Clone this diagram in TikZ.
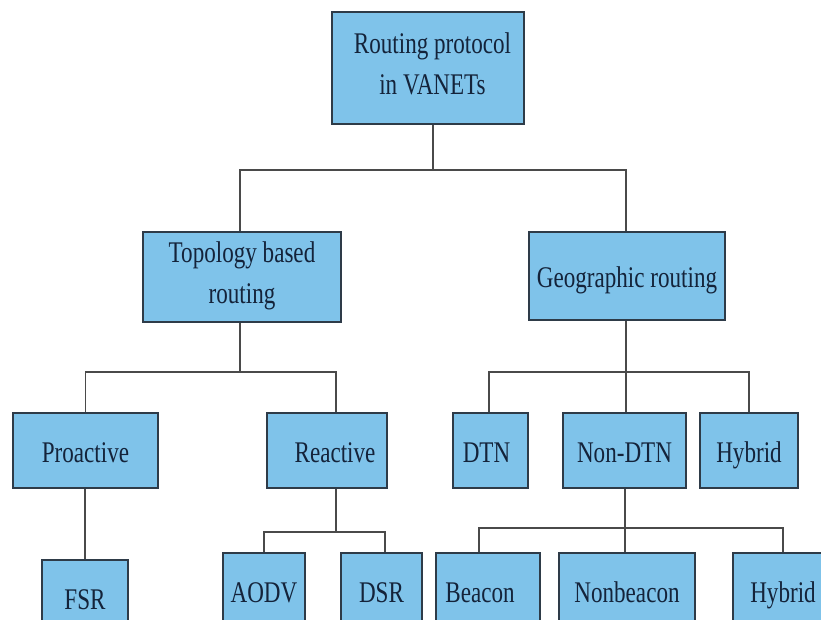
\documentclass[tikz,border=0pt]{standalone}
\usepackage{fontspec}
\setmainfont[FakeStretch=0.77]{Liberation Serif}
\usetikzlibrary{calc}
\definecolor{boxfill}{HTML}{7FC3EA}
\definecolor{boxline}{HTML}{2E3B48}
\definecolor{conline}{HTML}{4A4A4A}
\definecolor{txt}{HTML}{14233A}
\begin{document}
\begin{tikzpicture}[x=1pt,y=-1pt,
  box/.style={draw=boxline, fill=boxfill, line width=1.8pt, text=txt, inner sep=0pt,
              font=\fontsize{30}{41}\selectfont},
  multi/.style={box, align=center},
  one/.style={box, text height=23pt, text depth=0pt},
  conn/.style={draw=conline, line width=1.8pt}]
\useasboundingbox (0,0) rectangle (821,620);
\clip (0,0) rectangle (821,620);
\fill[white] (0,0) rectangle (821,620);

% level 0
\node[multi, minimum width=192pt, minimum height=112pt] (root) at (428,68)
  {\hspace*{9pt}Routing protocol\\\hspace*{9pt}in VANETs\rule[-8pt]{0pt}{0pt}};
% level 1
\node[multi, minimum width=198pt, minimum height=90pt] (topo) at (242,277)
  {Topology based\\routing\rule[-8pt]{0pt}{0pt}};
\node[one, minimum width=196pt, minimum height=88pt] (geo) at (627,276) {Geographic routing};
% level 2
\node[one, minimum width=145pt, minimum height=75pt] (pro) at (85.5,450.5) {Proactive};
\node[one, minimum width=120pt, minimum height=75pt] (rea) at (327,450.5) {\hspace*{16pt}Reactive};
\node[one, minimum width=75pt, minimum height=75pt] (dtn) at (490.5,450.5) {DTN\hspace*{8pt}};
\node[one, minimum width=123pt, minimum height=75pt] (ndtn) at (624.5,450.5) {Non-DTN};
\node[one, minimum width=98pt, minimum height=75pt] (hyb) at (749,450.5) {Hybrid};
% level 3
\node[one, minimum width=86pt, minimum height=75pt] (fsr) at (85,597.5) {FSR};
\node[one, minimum width=82pt, minimum height=75pt] (aodv) at (264,590.5) {AODV};
\node[one, minimum width=81pt, minimum height=75pt] (dsr) at (381.5,590.5) {DSR};
\node[one, minimum width=104pt, minimum height=75pt] (bea) at (488,590.5) {Beacon\hspace*{16pt}};
\node[one, minimum width=136pt, minimum height=75pt] (nbea) at (627,590.5) {Nonbeacon};
\node[one, minimum width=100pt, minimum height=75pt] (hybb) at (783,590.5) {Hybrid};

% connectors
\coordinate (j0) at (433,170);
\draw[conn] (j0 |- root.south) -- (j0);
\draw[conn] ([xshift=-2pt]topo.north) |- (j0) -| ([xshift=-1pt]geo.north);

\coordinate (j1) at (240,372);
\draw[conn] (j1 |- topo.south) -- (j1);
\draw[conn] (pro.north) |- (j1) -| ([xshift=9pt]rea.north);

\coordinate (j2) at (626,372);
\draw[conn] (j2 |- geo.south) -- (j2);
\draw[conn] ([xshift=-1.5pt]dtn.north) |- (j2) -| (hyb.north);
\draw[conn] (j2) -- (j2 |- ndtn.north);

\draw[conn] (fsr.north |- pro.south) -- (fsr.north);

\coordinate (j3) at (336,532);
\draw[conn] (j3 |- rea.south) -- (j3);
\draw[conn] (aodv.north) |- (j3) -| ([xshift=3.5pt]dsr.north);

\coordinate (j4) at (625,528);
\draw[conn] (j4 |- ndtn.south) -- (j4);
\draw[conn] ([xshift=-9pt]bea.north) |- (j4) -| (hybb.north);
\draw[conn] (j4) -- (j4 |- nbea.north);
\end{tikzpicture}
\end{document}
